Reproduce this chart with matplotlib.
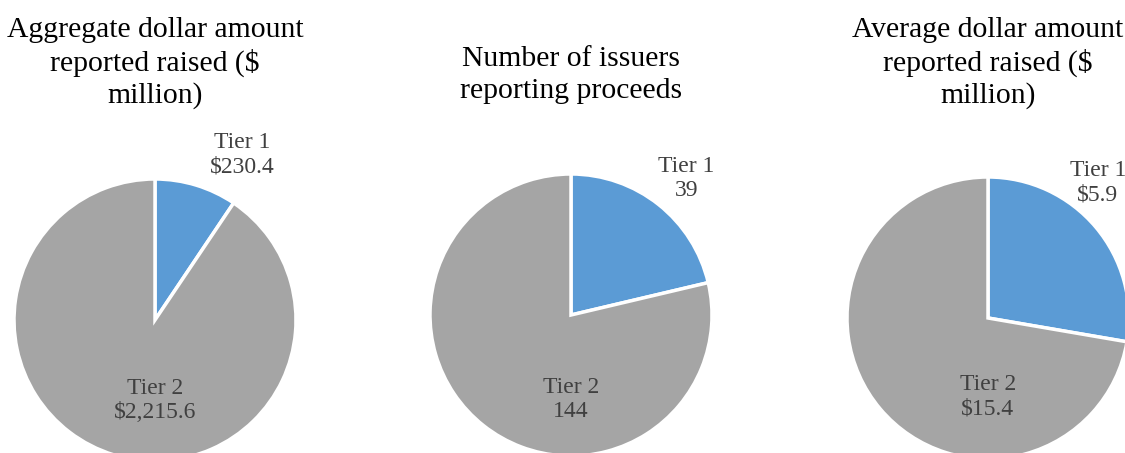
import matplotlib
matplotlib.use("Agg")
import matplotlib.pyplot as plt

# data
titles = [
    "Aggregate dollar amount\nreported raised ($\nmillion)",
    "Number of issuers\nreporting proceeds",
    "Average dollar amount\nreported raised ($\nmillion)",
]
tiers = ["Tier 1", "Tier 2"]
aggregate = [230.4, 2215.6]
issuers = [39, 144]
average = [5.9, 15.4]
value_fmt = ["${:,.1f}", "{:d}", "${:,.1f}"]

colors = ["#5B9BD5", "#A5A5A5"]
label_color = "#404040"

plt.rcParams["font.family"] = ["Liberation Serif", "DejaVu Serif"]

W, H = 1125, 453
fig = plt.figure(figsize=(W / 100, H / 100), dpi=100)

# pie centre (px from left, px from top), radius px, title centre y px,
# tier-1 label offset and tier-2 label offset in radius units
layout = [
    dict(cx=155, cy=320, r=141, ty=63, l1=(0.62, 1.17), l2=(0.0, -0.57)),
    dict(cx=571, cy=315, r=141, ty=75, l1=(0.82, 0.97), l2=(0.0, -0.6)),
    dict(cx=988, cy=318, r=141, ty=63, l1=(0.78, 0.96), l2=(0.0, -0.56)),
]

for values, title, fmt, lay in zip([aggregate, issuers, average], titles, value_fmt, layout):
    r = lay["r"]
    left = (lay["cx"] - r) / W
    bottom = (H - lay["cy"] - r) / H
    ax = fig.add_axes([left, bottom, 2 * r / W, 2 * r / H])
    ax.pie(values, colors=colors, startangle=90, counterclock=False, radius=1,
           wedgeprops=dict(edgecolor="white", linewidth=2.5))
    ax.set_xlim(-1, 1)
    ax.set_ylim(-1, 1)
    ax.set_aspect("equal")
    ax.axis("off")

    for (dx, dy), name, v in zip([lay["l1"], lay["l2"]], tiers, values):
        ax.text(dx, dy, name + "\n" + fmt.format(v), ha="center", va="center",
                fontsize=17, color=label_color, linespacing=1.2, clip_on=False)

    fig.text(lay["cx"] / W, 1 - lay["ty"] / H, title, ha="center", va="center",
             fontsize=21.3, color="black", linespacing=1.25)

fig.savefig("out.png", dpi=100, facecolor="white")
